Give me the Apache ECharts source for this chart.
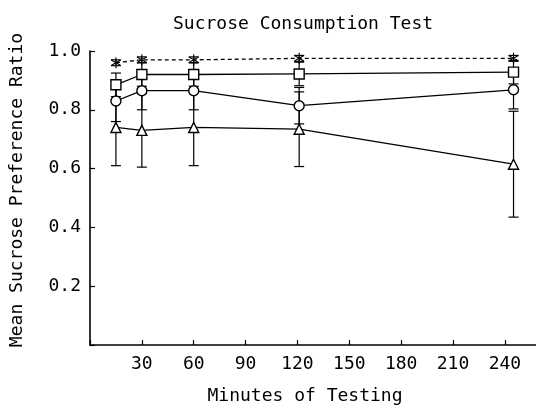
<!DOCTYPE html>
<html>
<head>
<meta charset="utf-8">
<script src="https://cdn.jsdelivr.net/npm/echarts@6/dist/echarts.min.js"></script>
<style>
  html, body { margin: 0; padding: 0; background: #fff; }
  #chart { width: 536px; height: 410px; }
</style>
</head>
<body>
<div id="chart"></div>
<script>
// minutes at which each group was measured
var minutes = [15, 30, 60, 121, 245]

// mean preference ratio per group
var starMean = [0.96, 0.97, 0.97, 0.975, 0.975]
var squareMean = [0.885, 0.92, 0.92, 0.922, 0.928]
var circleMean = [0.83, 0.865, 0.865, 0.814, 0.868]
var triangleMean = [0.74, 0.73, 0.74, 0.734, 0.615]

// standard errors
var starErr = [0.01, 0.01, 0.01, 0.01, 0.01]
var squareErr = [0.04, 0.04, 0.04, 0.04, 0.04]
var circleErr = [0.07, 0.065, 0.065, 0.062, 0.065]
var triangleErr = [0.13, 0.125, 0.13, 0.127, 0.18]

var xTicks = [30, 60, 90, 120, 150, 180, 210, 240]
var yTicks = [0.2, 0.4, 0.6, 0.8, 1.0]

var font = 'DejaVu Sans Mono'
var asterisk = 'path://M-1,-10L1,-10L1,10L-1,10Z' +
  'M9.16,4.13L8.16,5.87L-9.16,-4.13L-8.16,-5.87Z' +
  'M-9.16,4.13L-8.16,5.87L9.16,-4.13L8.16,-5.87Z'

function pairs(means) {
  return minutes.map(function(m, i) { return [m, means[i]] })
}

function bars(means, errs) {
  return minutes.map(function(m, i) { return [m, means[i] - errs[i], means[i] + errs[i]] })
}

function errorSeries(means, errs) {
  return {
    type: 'custom',
    z: 1,
    silent: true,
    data: bars(means, errs),
    encode: { x: 0, y: [1, 2] },
    renderItem: function(params, api) {
      var lo = api.coord([api.value(0), api.value(1)])
      var hi = api.coord([api.value(0), api.value(2)])
      var w = 5
      var style = { stroke: '#000', lineWidth: 1.2 }
      return {
        type: 'group',
        children: [
          { type: 'line', shape: { x1: lo[0], y1: lo[1], x2: hi[0], y2: hi[1] }, style: style },
          { type: 'line', shape: { x1: lo[0] - w, y1: lo[1], x2: lo[0] + w, y2: lo[1] }, style: style },
          { type: 'line', shape: { x1: hi[0] - w, y1: hi[1], x2: hi[0] + w, y2: hi[1] }, style: style }
        ]
      }
    }
  }
}

function lineSeries(means, symbol, dashed, filled) {
  return {
    type: 'line',
    z: 3,
    data: pairs(means),
    symbol: symbol,
    symbolSize: filled ? 11 : 10,
    symbolKeepAspect: true,
    showAllSymbol: true,
    lineStyle: { color: '#000', width: 1.3, type: dashed ? [4, 3] : 'solid' },
    itemStyle: { color: filled ? '#000' : '#fff', borderColor: '#000', borderWidth: filled ? 0 : 1.4 }
  }
}

var myChart = echarts.init(document.getElementById('chart'))

myChart.setOption({
  animation: false,
  backgroundColor: '#fff',
  title: {
    text: 'Sucrose Consumption Test',
    left: 168,
    top: 10,
    textStyle: { fontFamily: font, fontSize: 18, fontWeight: 'normal', color: '#000' }
  },
  grid: { left: 90, top: 51, right: 0, bottom: 60 },
  xAxis: {
    type: 'value',
    min: 0,
    max: 258,
    interval: 30,
    name: 'Minutes of Testing',
    nameLocation: 'middle',
    nameGap: 42,
    nameTextStyle: { fontFamily: font, fontSize: 18, color: '#000', padding: [0, 16, 0, 0] },
    axisLine: { lineStyle: { color: '#000', width: 1.6 } },
    axisTick: { inside: true, length: 5, lineStyle: { color: '#000', width: 1.2 } },
    axisLabel: {
      fontFamily: font, fontSize: 18, color: '#000', margin: 10,
      showMaxLabel: false,
      formatter: function(v) { return xTicks.indexOf(v) >= 0 ? String(v) : '' }
    },
    splitLine: { show: false }
  },
  yAxis: {
    type: 'value',
    min: 0,
    max: 1.0,
    interval: 0.2,
    name: 'Mean Sucrose Preference Ratio',
    nameLocation: 'middle',
    nameGap: 64,
    nameTextStyle: { fontFamily: font, fontSize: 18, color: '#000', padding: [0, 0, 0, 16] },
    axisLine: { lineStyle: { color: '#000', width: 1.6 } },
    axisTick: { inside: true, length: 5, lineStyle: { color: '#000', width: 1.2 } },
    axisLabel: {
      fontFamily: font, fontSize: 18, color: '#000', margin: 9,
      formatter: function(v) {
        var r = Math.round(v * 10) / 10
        return yTicks.indexOf(r) >= 0 ? r.toFixed(1) : ''
      }
    },
    splitLine: { show: false }
  },
  series: [
    errorSeries(starMean, starErr),
    errorSeries(squareMean, squareErr),
    errorSeries(circleMean, circleErr),
    errorSeries(triangleMean, triangleErr),
    lineSeries(starMean, asterisk, true, true),
    lineSeries(squareMean, 'rect', false, false),
    lineSeries(circleMean, 'circle', false, false),
    lineSeries(triangleMean, 'triangle', false, false)
  ]
})
</script>
</body>
</html>
